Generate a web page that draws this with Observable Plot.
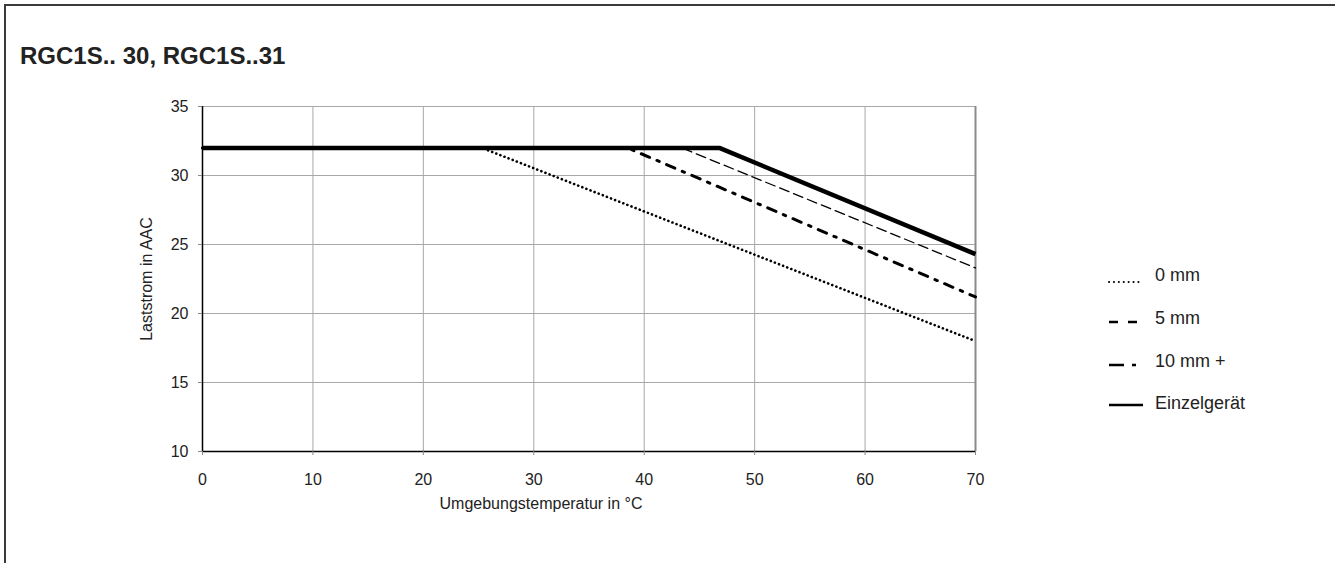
<!DOCTYPE html>
<html><head><meta charset="utf-8">
<script src="https://cdn.jsdelivr.net/npm/d3@7"></script>
<script src="https://cdn.jsdelivr.net/npm/@observablehq/plot@0.6"></script>
<style>
body{margin:0;background:#fff;font-family:"Liberation Sans",Arial,Helvetica,sans-serif;}
#page{position:relative;width:1335px;height:563px;overflow:hidden;background:#fff;}
#frame{position:absolute;left:4px;top:4px;right:-10px;bottom:-10px;border-top:2px solid #3a3a3a;border-left:2px solid #3a3a3a;}
#title{position:absolute;left:20px;top:42px;font-weight:bold;font-size:24px;color:#222;white-space:nowrap;}
#chart{position:absolute;left:0;top:0;}
#legend{position:absolute;left:1108px;top:254px;}
.row{display:flex;align-items:center;height:42.7px;}
.row span{font-size:18px;color:#222;margin-left:11px;line-height:22px;}
</style></head>
<body>
<div id="page">
  <div id="frame"></div>
  <div id="title">RGC1S.. 30, RGC1S..31</div>
  <div id="chart"></div>
  <div id="legend"></div>
</div>
<script>
// ---- data ----
const seriesNames = ["0 mm", "5 mm", "10 mm +", "Einzelgerät"];
const temp_0mm = [0, 25.3, 70];
const current_0mm = [32, 32, 18.0];
const temp_5mm = [0, 43.4, 70];
const current_5mm = [32, 32, 23.3];
const temp_10mm = [0, 38.5, 70];
const current_10mm = [32, 32, 21.2];
const temp_single = [0, 46.8, 70];
const current_single = [32, 32, 24.3];
const xTicks = [0, 10, 20, 30, 40, 50, 60, 70];
const yTicks = [10, 15, 20, 25, 30, 35];
const xLabel = "Umgebungstemperatur in °C";
const yLabel = "Laststrom in AAC";

const temps = [temp_0mm, temp_5mm, temp_10mm, temp_single];
const currents = [current_0mm, current_5mm, current_10mm, current_single];
const data = seriesNames.flatMap((s, i) => temps[i].map((t, j) => ({series: s, temp: t, current: currents[i][j]})));
const of = s => data.filter(d => d.series === s);

// ---- styles ----
const styles = {
  "0 mm": {stroke: "#000", strokeWidth: 2.6, strokeDasharray: "0.1,4.3", strokeLinecap: "round"},
  "5 mm": {stroke: "#000", strokeWidth: 1.3, strokeDasharray: "10,5"},
  "10 mm +": {stroke: "#000", strokeWidth: 3, strokeDasharray: "9,8,2.5,8"},
  "Einzelgerät": {stroke: "#000", strokeWidth: 4.5, strokeLinecap: "butt"}
};
const legendStyles = {
  "0 mm": {w: 2, dash: "0.1,4.8", cap: "round", y: 18},
  "5 mm": {w: 2.6, dash: "9,10", cap: "butt", y: 15},
  "10 mm +": {w: 2.6, dash: "15,8,4,20", cap: "butt", y: 15},
  "Einzelgerät": {w: 2.6, dash: null, cap: "butt", y: 13}
};

const font = '"Liberation Sans", Arial, Helvetica, sans-serif';
const chart = Plot.plot({
  width: 1000,
  height: 520,
  marginLeft: 202,
  marginRight: 25,
  marginTop: 106,
  marginBottom: 69,
  x: {domain: [0, 70]},
  y: {domain: [10, 35]},
  style: {fontFamily: font, fontSize: "16px", color: "#222", background: "transparent", overflow: "visible"},
  marks: [
    Plot.gridX(xTicks, {stroke: "#a8a8a8", strokeOpacity: 1, strokeWidth: 1}),
    Plot.gridY(yTicks, {stroke: "#a8a8a8", strokeOpacity: 1, strokeWidth: 1}),
    Plot.ruleX([70], {stroke: "#8a8a8a", strokeWidth: 2}),
    ...["0 mm", "5 mm", "10 mm +", "Einzelgerät"].map(s =>
      Plot.line(of(s), {x: "temp", y: "current", ...styles[s]})),
    Plot.ruleX([0], {stroke: "#000", strokeWidth: 1.5}),
    Plot.ruleY([10], {stroke: "#000", strokeWidth: 1.5}),
    Plot.axisX(xTicks, {tickSize: 4, tickPadding: 18, label: null, stroke: "#888", fontSize: 16}),
    Plot.axisY(yTicks, {tickSize: 4, tickPadding: 10, label: yLabel, labelAnchor: "center", labelOffset: 62, labelArrow: "none", stroke: "#888", fontSize: 16}),
    Plot.text([xLabel], {frameAnchor: "bottom", dx: -48, dy: 52, lineAnchor: "middle", fontSize: 16, fill: "#222"})
  ]
});
document.getElementById("chart").append(chart);

// ---- legend ----
const legend = d3.select("#legend");
seriesNames.forEach(s => {
  const st = legendStyles[s];
  const row = legend.append("div").attr("class", "row");
  const svg = row.append("svg").attr("width", 36).attr("height", 22);
  const line = svg.append("line").attr("x1", 1).attr("x2", 35).attr("y1", st.y).attr("y2", st.y)
    .attr("stroke", "#000").attr("stroke-width", st.w).attr("stroke-linecap", st.cap);
  if (st.dash) line.attr("stroke-dasharray", st.dash);
  row.append("span").text(s);
});
</script>
</body></html>
